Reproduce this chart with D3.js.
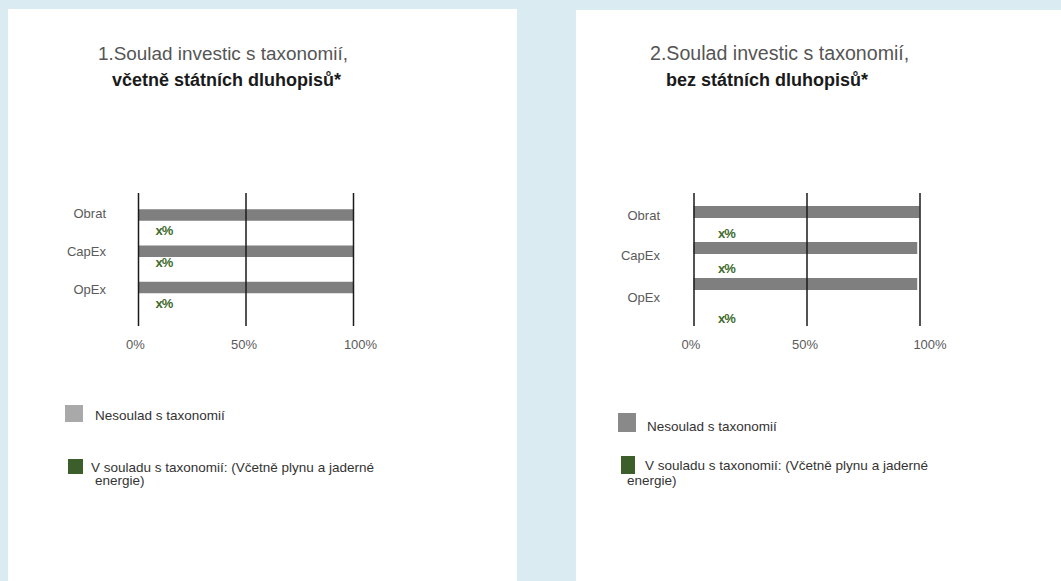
<!DOCTYPE html>
<html>
<head>
<meta charset="utf-8">
<script src="https://cdn.jsdelivr.net/npm/d3@7"></script>
<style>
    body { margin: 0; background: #daebf2; }
    svg text { font-family: "Liberation Sans", Arial, sans-serif; }
</style>
</head>
<body>
<div id="chart"></div>
<script>
// chart values
var categories = ['Obrat', 'CapEx', 'OpEx'];
var tickValues = [0, 50, 100];
var tickLabels = ['0%', '50%', '100%'];

var alignedIncl = [0, 0, 0];
var notAlignedIncl = [100, 100, 100];
var alignedExcl = [0, 0, 0];
var notAlignedExcl = [100, 99, 99];
var alignedLabels = ['x%', 'x%', 'x%'];

var titleLines1 = ['1.Soulad investic s taxonomií,', '2.Soulad investic s taxonomií,'];
var titleLines2 = ['včetně státních dluhopisů*', 'bez státních dluhopisů*'];

var legendNotAligned = ['Nesoulad s taxonomií'];
var legendAligned = ['V souladu s taxonomií: (Včetně plynu a jaderné', 'energie)'];

var greenColor = '#3b5e2b';
var barGray = '#7f7f7f';

var svg = d3.select('#chart')
    .append('svg')
    .attr('width', 1061)
    .attr('height', 581);

svg.append('rect')
    .attr('width', 1061)
    .attr('height', 581)
    .attr('fill', '#daebf2');

TaxonomyPanel = function(_svg, _data, _layout) {
    this.svg = _svg;
    this.data = _data;
    this.layout = _layout;

    this.initVis();
}

TaxonomyPanel.prototype.initVis = function() {
    var vis = this;
    var L = vis.layout;

    vis.g = vis.svg.append('g');

    vis.g.append('rect')
        .attr('x', L.panel[0])
        .attr('y', L.panel[1])
        .attr('width', L.panel[2])
        .attr('height', L.panel[3])
        .attr('fill', '#ffffff');

    // title
    vis.g.append('text')
        .attr('x', L.title1[0])
        .attr('y', L.title1[1])
        .attr('fill', '#555')
        .style('font-size', L.title1Size + 'px')
        .text(vis.data.title1);

    vis.g.append('text')
        .attr('x', L.title2[0])
        .attr('y', L.title2[1])
        .attr('fill', '#1a1a1a')
        .style('font-size', '18px')
        .style('font-weight', 'bold')
        .text(vis.data.title2);

    vis.xScale = d3.scaleLinear()
        .domain([0, 100])
        .range(L.xRange);

    vis.barScale = d3.scalePoint()
        .domain(categories)
        .range(L.barRange);

    // label rows are not evenly spaced in the original
    vis.labelScale = d3.scaleOrdinal()
        .domain(categories)
        .range(L.labelYs);

    vis.pctScale = d3.scaleOrdinal()
        .domain(categories)
        .range(L.pctYs);

    vis.barHeight = L.barHeight;

    vis.updateVis();
}

TaxonomyPanel.prototype.updateVis = function() {
    var vis = this;
    var L = vis.layout;

    var rows = categories.map(function(c, i) {
        return {
            cat: c,
            aligned: vis.data.aligned[i],
            notAligned: vis.data.notAligned[i],
            label: alignedLabels[i]
        };
    });

    // not aligned part
    vis.g.selectAll('.bar-gray')
        .data(rows)
        .enter()
        .append('rect')
        .attr('class', 'bar-gray')
        .attr('fill', barGray)
        .attr('x', function(d) { return vis.xScale(d.aligned); })
        .attr('y', function(d) { return vis.barScale(d.cat) - vis.barHeight / 2; })
        .attr('width', function(d) { return vis.xScale(d.aligned + d.notAligned) - vis.xScale(d.aligned); })
        .attr('height', vis.barHeight);

    // aligned part
    vis.g.selectAll('.bar-green')
        .data(rows)
        .enter()
        .append('rect')
        .attr('class', 'bar-green')
        .attr('fill', greenColor)
        .attr('x', vis.xScale(0))
        .attr('y', function(d) { return vis.barScale(d.cat) - vis.barHeight / 2; })
        .attr('width', function(d) { return vis.xScale(d.aligned) - vis.xScale(0); })
        .attr('height', vis.barHeight);

    // grid lines + tick labels drawn on top of bars
    vis.xAxis = d3.axisBottom()
        .scale(vis.xScale)
        .tickValues(tickValues)
        .tickFormat(function(d, i) { return tickLabels[i]; })
        .tickSizeInner(-(L.lineBottom - L.lineTop))
        .tickSizeOuter(0)
        .tickPadding(14);

    var axisG = vis.g.append('g')
        .attr('class', 'x-axis axis')
        .attr('transform', 'translate(0,' + L.lineBottom + ')')
        .call(vis.xAxis);

    axisG.select('.domain').remove();
    axisG.selectAll('.tick line')
        .attr('stroke', '#1a1a1a')
        .attr('stroke-width', 1.5);
    axisG.selectAll('.tick text')
        .attr('fill', '#5a5a5a')
        .style('font-size', '13px')
        .attr('dx', function(d) { return d === 100 ? L.lastTickShift : (d === 0 ? -3 : -2); });

    // category labels
    vis.g.selectAll('.cat-label')
        .data(rows)
        .enter()
        .append('text')
        .attr('class', 'cat-label')
        .attr('x', L.labelX)
        .attr('y', function(d) { return vis.labelScale(d.cat); })
        .attr('dy', '0.35em')
        .attr('text-anchor', 'end')
        .attr('fill', '#5a5a5a')
        .style('font-size', '13px')
        .text(function(d) { return d.cat; });

    // aligned value labels
    vis.g.selectAll('.pct-label')
        .data(rows)
        .enter()
        .append('text')
        .attr('class', 'pct-label')
        .attr('x', function(d) { return vis.xScale(d.aligned) + L.pctOffset; })
        .attr('y', function(d) { return vis.pctScale(d.cat); })
        .attr('dy', '0.35em')
        .attr('text-anchor', 'middle')
        .attr('fill', '#3f6b2c')
        .style('font-size', '13px')
        .style('font-weight', 'bold')
        .style('letter-spacing', '-1px')
        .text(function(d) { return d.label; });

    // legend
    var lg = L.legend;
    vis.g.append('rect')
        .attr('x', lg.gray[0]).attr('y', lg.gray[1])
        .attr('width', lg.gray[2]).attr('height', lg.gray[3])
        .attr('fill', lg.grayFill);

    vis.g.append('text')
        .attr('x', lg.grayText[0])
        .attr('y', lg.grayText[1])
        .attr('dy', '0.35em')
        .attr('fill', '#333')
        .style('font-size', '13.5px')
        .text(legendNotAligned[0]);

    vis.g.append('rect')
        .attr('x', lg.green[0]).attr('y', lg.green[1])
        .attr('width', lg.green[2]).attr('height', lg.green[3])
        .attr('fill', greenColor);

    vis.g.selectAll('.legend-green-text')
        .data(legendAligned)
        .enter()
        .append('text')
        .attr('class', 'legend-green-text')
        .attr('x', function(d, i) { return lg.greenText[i][0]; })
        .attr('y', function(d, i) { return lg.greenText[i][1]; })
        .attr('dy', '0.35em')
        .attr('fill', '#333')
        .style('font-size', '13.5px')
        .text(function(d) { return d; });
}

var leftPanel = new TaxonomyPanel(svg,
    { title1: titleLines1[0], title2: titleLines2[0], aligned: alignedIncl, notAligned: notAlignedIncl },
    {
        panel: [8, 9, 509, 572],
        title1: [98, 60],
        title1Size: 18.9,
        title2: [112, 86],
        xRange: [138, 353],
        barRange: [215, 287.5],
        labelYs: [213, 251, 289],
        pctYs: [230, 262, 303],
        barHeight: 11.5,
        lineTop: 193,
        lineBottom: 326,
        lastTickShift: 7,
        labelX: 106,
        pctOffset: 26,
        legend: {
            gray: [65, 405, 18, 17], grayFill: '#a9a9a9', grayText: [95, 415],
            green: [68, 459, 15, 15], greenText: [[91, 467], [95, 480]]
        }
    });

var rightPanel = new TaxonomyPanel(svg,
    { title1: titleLines1[1], title2: titleLines2[1], aligned: alignedExcl, notAligned: notAlignedExcl },
    {
        panel: [576, 10, 485, 571],
        title1: [650, 60],
        title1Size: 19.6,
        title2: [666, 86],
        xRange: [693.5, 919.5],
        barRange: [212, 284],
        labelYs: [215, 255, 297],
        pctYs: [233, 268, 318],
        barHeight: 12,
        lineTop: 193,
        lineBottom: 326,
        lastTickShift: 10,
        labelX: 660,
        pctOffset: 33,
        legend: {
            gray: [618, 413, 18, 19], grayFill: '#898989', grayText: [647, 426],
            green: [621, 456, 14, 18], greenText: [[645, 465], [627, 480]]
        }
    });
</script>
</body>
</html>
